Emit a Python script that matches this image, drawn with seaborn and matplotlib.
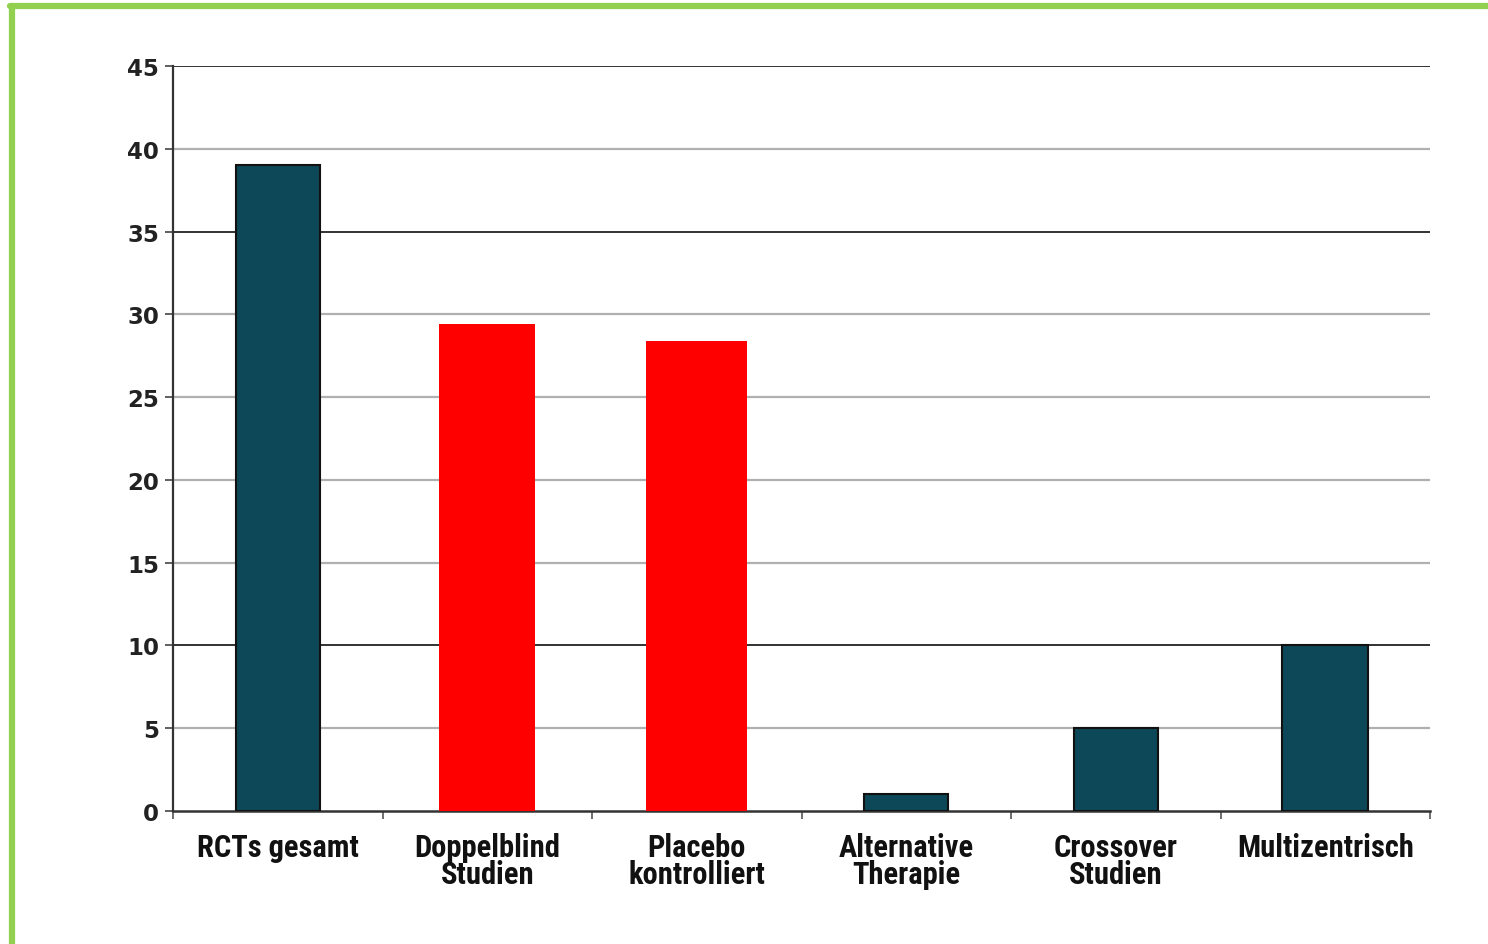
import matplotlib
matplotlib.use("Agg")
import matplotlib.pyplot as plt
import matplotlib.transforms as mtransforms
import seaborn as sns
import pandas as pd
from matplotlib.lines import Line2D
from matplotlib import font_manager

categories = ["RCTs gesamt", "Doppelblind\nStudien", "Placebo\nkontrolliert",
              "Alternative\nTherapie", "Crossover\nStudien", "Multizentrisch"]
values = [39, 29.4, 28.4, 1, 5, 10]
yticks = [0, 5, 10, 15, 20, 25, 30, 35, 40, 45]

TEAL = "#0D4858"
RED = "#FF0000"
colors = [TEAL, RED, RED, TEAL, TEAL, TEAL]
edges = ["#111111", RED, RED, "#111111", "#111111", "#111111"]
widths = [0.40, 0.46, 0.48, 0.40, 0.40, 0.41]

sns.set_theme(style="white")
plt.rcParams["font.family"] = ["DejaVu Sans"]

names = {f.name for f in font_manager.fontManager.ttflist}
narrow = None
for cand in ["Liberation Sans Narrow", "Roboto Condensed", "Open Sans Condensed", "DejaVu Sans Condensed"]:
    if cand in names:
        narrow = cand
        break

fig = plt.figure(figsize=(14.88, 9.45), dpi=100)
ax = fig.add_axes([173/1488, 1 - 812/945, (1430-173)/1488, (812-67)/945])

df = pd.DataFrame({"cat": categories, "val": values})
sns.barplot(data=df, x="cat", y="val", hue="cat", palette=colors, legend=False,
            ax=ax, width=0.42, saturation=1, zorder=3)

for p, w, ec in zip(ax.patches, widths, edges):
    cx = p.get_x() + p.get_width() / 2
    p.set_width(w)
    p.set_x(cx - w / 2)
    p.set_edgecolor(ec)
    p.set_linewidth(1.5 if ec != RED else 0)

ax.set_ylim(0, 45)
ax.set_xlim(-0.5, len(categories) - 0.5)
ax.set_yticks(yticks)
ax.set_yticklabels([str(t) for t in yticks], fontsize=16.5, fontweight="bold",
                   family=["DejaVu Sans"], color="#222222")

dark_lines = {10, 35, 45}
for t in yticks[1:]:
    if t in dark_lines:
        ax.axhline(t, color="#222222", lw=1.3, zorder=1)
    else:
        ax.axhline(t, color="#b0b0b0", lw=1.6, zorder=1)

ax.set_xticks(range(len(categories)))
fam = [narrow, "DejaVu Sans"] if narrow else ["DejaVu Sans"]
labels = ax.set_xticklabels(categories, fontsize=22, fontweight="bold",
                            family=fam, linespacing=0.9, color="#111111")
offset = mtransforms.ScaledTranslation(7/100, 0, fig.dpi_scale_trans)
for lab in labels:
    lab.set_transform(lab.get_transform() + offset)
ax.tick_params(axis="x", length=0, pad=15)
ax.tick_params(axis="y", length=6, width=1.2, color="#444444", pad=4, left=True)
ax.set_xticks([i - 0.5 for i in range(len(categories) + 1)], minor=True)
ax.tick_params(axis="x", which="minor", length=6, width=1.2, color="#555555", bottom=True)

ax.set_xlabel("")
ax.set_ylabel("")
for s in ["top", "right"]:
    ax.spines[s].set_visible(False)
ax.spines["left"].set_color("#333333")
ax.spines["left"].set_linewidth(1.6)
ax.spines["bottom"].set_color("#333333")
ax.spines["bottom"].set_linewidth(1.8)

green = "#92D050"
fig.add_artist(Line2D([12/1488, 12/1488], [0, 1 - 7/945], transform=fig.transFigure,
                      color=green, lw=4.5))
fig.add_artist(Line2D([10/1488, 1], [1 - 7/945, 1 - 7/945], transform=fig.transFigure,
                      color=green, lw=4.5))

fig.savefig("out.png", dpi=100)
